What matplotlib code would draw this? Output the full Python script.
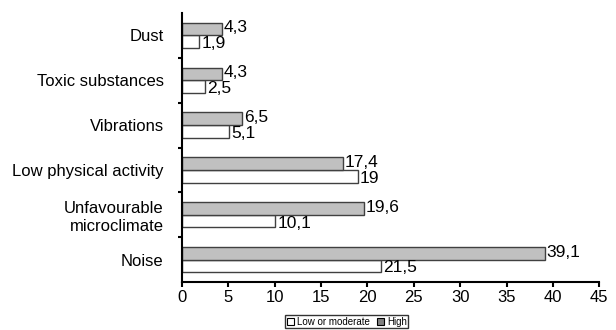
import matplotlib.pyplot as plt
import numpy as np
from matplotlib.patches import Patch

plt.rcParams['font.family'] = ['Liberation Sans', 'DejaVu Sans']

# categories from bottom to top
categories = ['Noise', 'Unfavourable\nmicroclimate', 'Low physical activity',
              'Vibrations', 'Toxic substances', 'Dust']
low_moderate = [21.5, 10.1, 19, 5.1, 2.5, 1.9]
high = [39.1, 19.6, 17.4, 6.5, 4.3, 4.3]
low_labels = ['21,5', '10,1', '19', '5,1', '2,5', '1,9']
high_labels = ['39,1', '19,6', '17,4', '6,5', '4,3', '4,3']

fig = plt.figure(figsize=(6.16, 3.3), dpi=100)
ax = fig.add_axes([0.295, 0.1445, 0.678, 0.817])

y = np.arange(len(categories))
h = 0.28
edge = '#404040'
b_low = ax.barh(y - h / 2, low_moderate, height=h, color='white', edgecolor=edge, linewidth=1)
b_high = ax.barh(y + h / 2, high, height=h, color='#c0c0c0', edgecolor=edge, linewidth=1)

for bar, lab in zip(b_low, low_labels):
    ax.text(bar.get_width() + 0.2, bar.get_y() + bar.get_height() / 2 - 0.04, lab,
            va='center', ha='left', fontsize=12.5)
for bar, lab in zip(b_high, high_labels):
    ax.text(bar.get_width() + 0.2, bar.get_y() + bar.get_height() / 2 + 0.02, lab,
            va='center', ha='left', fontsize=12.5)

ax.set_xlim(0, 45)
ax.set_ylim(-0.5, len(categories) - 0.5)
ax.set_xticks(range(0, 46, 5))
ax.set_yticks(y)
ax.set_yticklabels(categories, fontsize=12, ha='right', multialignment='right')
ax.set_yticks(np.arange(0.5, len(categories) - 1, 1), minor=True)
ax.tick_params(axis='y', which='major', length=0, pad=13)
ax.tick_params(axis='y', which='minor', length=3, width=1.5, direction='out')
ax.tick_params(axis='x', length=3.5, width=1.5, labelsize=12, pad=2)

for side in ['top', 'right']:
    ax.spines[side].set_visible(False)
for side in ['left', 'bottom']:
    ax.spines[side].set_linewidth(1.5)

handles = [Patch(facecolor='white', edgecolor='black', linewidth=0.8, label='Low or moderate'),
           Patch(facecolor='#808080', edgecolor='black', linewidth=0.8, label='High')]
fig.legend(handles=handles, loc='center', bbox_to_anchor=(0.563, 0.025), ncol=2,
           fontsize=7, frameon=True, fancybox=False, edgecolor='black',
           handlelength=0.7, handleheight=0.7, handletextpad=0.3, columnspacing=0.8,
           borderpad=0.15, borderaxespad=0)

fig.savefig('out.png', dpi=100)
